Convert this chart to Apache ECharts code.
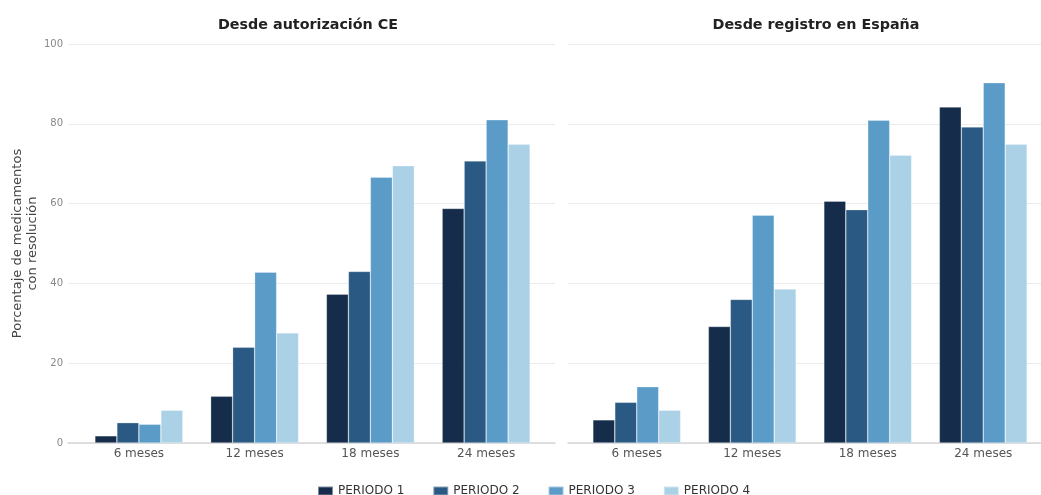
<!DOCTYPE html>
<html>
<head>
<meta charset="utf-8">
<script src="https://cdn.jsdelivr.net/npm/echarts@6/dist/echarts.min.js"></script>
<style>
  html, body { margin: 0; padding: 0; background: #fff; }
  #chart { width: 1041px; height: 495px; }
</style>
</head>
<body>
<div id="chart"></div>
<script>
  // datos
  var categorias = ['6 meses', '12 meses', '18 meses', '24 meses']
  var periodos = ['PERIODO 1', 'PERIODO 2', 'PERIODO 3', 'PERIODO 4']
  var colores = ['#152d4b', '#2a5a83', '#5a9bc8', '#aad1e6']
  var yTicks = [0, 20, 40, 60, 80, 100]

  // Desde autorización CE
  var autCE_p1 = [1.8, 11.7, 37.3, 58.8]
  var autCE_p2 = [5.1, 24.0, 43.0, 70.7]
  var autCE_p3 = [4.7, 42.8, 66.6, 81.0]
  var autCE_p4 = [8.2, 27.6, 69.5, 74.9]

  // Desde registro en España
  var regES_p1 = [5.8, 29.2, 60.6, 84.2]
  var regES_p2 = [10.2, 36.0, 58.5, 79.2]
  var regES_p3 = [14.1, 57.1, 80.9, 90.3]
  var regES_p4 = [8.2, 38.6, 72.1, 74.9]

  var font = 'DejaVu Sans'
  var myChart = echarts.init(document.getElementById('chart'))

  function fondoY(show) {
    return {
      type: 'value', min: yTicks[0], max: yTicks[yTicks.length - 1], interval: 20,
      axisLine: {show: false}, axisTick: {show: false},
      axisLabel: {show: show, color: '#888', fontSize: 10, fontFamily: font, margin: 5},
      splitLine: {lineStyle: {color: '#ececec', width: 1}}
    }
  }
  function fondoX() {
    return {
      type: 'value', min: 0, max: 1,
      axisLine: {show: true, lineStyle: {color: '#d6d6d6', width: 1.5}},
      axisTick: {show: false}, axisLabel: {show: false}, splitLine: {show: false}
    }
  }
  function datosX(grid) {
    return {
      type: 'category', gridIndex: grid, data: categorias,
      axisLine: {show: false}, axisTick: {show: false},
      axisLabel: {color: '#555', fontSize: 12, fontFamily: font, margin: 5},
      splitLine: {show: false}
    }
  }
  function datosY(grid) {
    return {
      type: 'value', gridIndex: grid, min: 0, max: 100, show: false,
      splitLine: {show: false}
    }
  }
  function barras(nombre, datos, i, grid) {
    return {
      name: nombre, type: 'bar', xAxisIndex: grid, yAxisIndex: grid,
      data: datos, barGap: '0%', barCategoryGap: '24%',
      itemStyle: {color: colores[i], borderColor: 'rgba(255,255,255,0.45)', borderWidth: 0.6}
    }
  }

  var yLeft = fondoY(true)
  yLeft.name = 'Porcentaje de medicamentos\ncon resolución'
  yLeft.nameLocation = 'middle'
  yLeft.nameGap = 28
  yLeft.nameTextStyle = {color: '#444', fontSize: 13, fontFamily: font, lineHeight: 15}
  var yRight = fondoY(false)
  yRight.gridIndex = 1
  var xLeft = fondoX()
  var xRight = fondoX()
  xRight.gridIndex = 1

  var option = {
    animation: false,
    color: colores,
    title: [
      {text: 'Desde autorización CE', left: 303, top: 13, textAlign: 'center',
        textStyle: {fontFamily: font, fontSize: 14.3, fontWeight: 'bold', color: '#222'}},
      {text: 'Desde registro en España', left: 811, top: 13, textAlign: 'center',
        textStyle: {fontFamily: font, fontSize: 14.3, fontWeight: 'bold', color: '#222'}}
    ],
    legend: {
      data: periodos, top: 485, left: 317, itemGap: 28,
      itemWidth: 15, itemHeight: 9, icon: 'rect', padding: 0,
      textStyle: {color: '#333', fontSize: 12, fontFamily: font}
    },
    grid: [
      {left: 68, width: 487, top: 44, bottom: 52},
      {left: 568, right: 0, top: 44, bottom: 52},
      {left: 81, width: 463, top: 44, bottom: 52},
      {left: 579, width: 464, top: 44, bottom: 52}
    ],
    xAxis: [xLeft, xRight, datosX(2), datosX(3)],
    yAxis: [yLeft, yRight, datosY(2), datosY(3)],
    series: [
      barras(periodos[0], autCE_p1, 0, 2),
      barras(periodos[1], autCE_p2, 1, 2),
      barras(periodos[2], autCE_p3, 2, 2),
      barras(periodos[3], autCE_p4, 3, 2),
      barras(periodos[0], regES_p1, 0, 3),
      barras(periodos[1], regES_p2, 1, 3),
      barras(periodos[2], regES_p3, 2, 3),
      barras(periodos[3], regES_p4, 3, 3)
    ]
  }
  myChart.setOption(option)
</script>
</body>
</html>
